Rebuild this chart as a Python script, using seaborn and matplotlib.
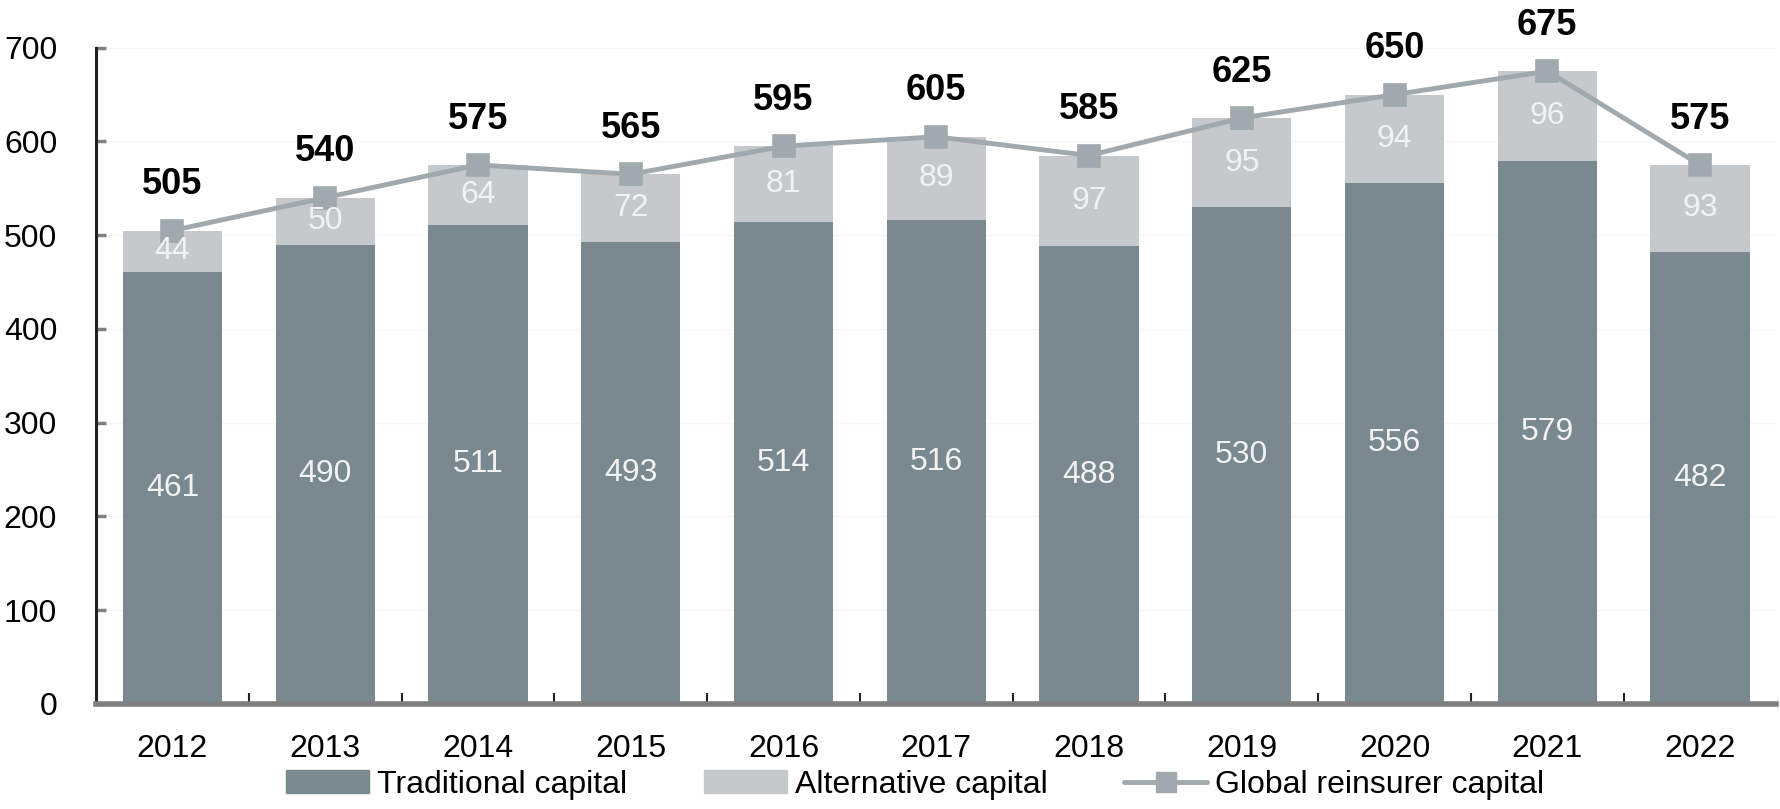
import numpy as np
import pandas as pd
import matplotlib
matplotlib.use("Agg")
import matplotlib.pyplot as plt
import seaborn as sns
from matplotlib.patches import Patch
from matplotlib.lines import Line2D

years = ["2012", "2013", "2014", "2015", "2016", "2017", "2018", "2019", "2020", "2021", "2022"]
traditional = [461, 490, 511, 493, 514, 516, 488, 530, 556, 579, 482]
alternative = [44, 50, 64, 72, 81, 89, 97, 95, 94, 96, 93]
global_total = [505, 540, 575, 565, 595, 605, 585, 625, 650, 675, 575]

c_trad = "#7a898f"
c_alt = "#c5c9cc"
c_line = "#a0a9ad"

sns.set_theme(style="white")
plt.rcParams["font.family"] = ["Liberation Sans", "DejaVu Sans"]

df = pd.DataFrame({
    "Year": years,
    "Traditional": traditional,
    "Alternative": alternative,
    "Total": global_total,
})
df["Stack"] = df["Traditional"] + df["Alternative"]

fig = plt.figure(figsize=(17.8, 8.09), dpi=100)
ax = fig.add_axes([0.054, 0.130, 0.944, 0.811])

# stacked bars: full stack in light grey, traditional part drawn over it
sns.barplot(data=df, x="Year", y="Stack", color=c_alt, saturation=1,
            width=0.65, linewidth=0, ax=ax, zorder=2)
sns.barplot(data=df, x="Year", y="Traditional", color=c_trad, saturation=1,
            width=0.65, linewidth=0, ax=ax, zorder=3)
sns.pointplot(data=df, x="Year", y="Total", color=c_line, markers="s",
              markersize=15, linewidth=3.5, ax=ax, zorder=4)

for i in range(len(years)):
    ax.text(i, traditional[i] / 2, str(traditional[i]), ha="center", va="center",
            color="#f2f2f2", fontsize=23, zorder=5)
    ax.text(i, traditional[i] + alternative[i] / 2, str(alternative[i]), ha="center",
            va="center", color="#f2f2f2", fontsize=23, zorder=5)
    ax.annotate(str(global_total[i]), (i, global_total[i]), xytext=(0, 33),
                textcoords="offset points", ha="center", va="center",
                fontsize=26, fontweight="bold", color="black", zorder=6)

ax.set_xlim(-0.5, len(years) - 0.5)
ax.set_ylim(0, 700)
ax.set_yticks(range(0, 701, 100))
ax.set_xlabel("")
ax.set_ylabel("")
ax.yaxis.grid(True, color="#f6f6f6", linewidth=1)
ax.set_axisbelow(True)

for s in ["top", "right"]:
    ax.spines[s].set_visible(False)
ax.spines["left"].set_color("#222222")
ax.spines["left"].set_linewidth(2.2)
ax.spines["bottom"].set_color("#7f7f7f")
ax.spines["bottom"].set_linewidth(4)
ax.spines["bottom"].set_zorder(6)

ax.tick_params(axis="y", direction="in", length=7, width=2.5, color="#808080",
               labelsize=23, labelcolor="black", pad=28, left=True)
ax.tick_params(axis="x", which="major", length=0, labelsize=23,
               labelcolor="black", pad=22)
ax.set_xticks(np.arange(0.5, len(years) - 0.5, 1), minor=True)
ax.tick_params(axis="x", which="minor", direction="in", length=8, width=1.5,
               color="#222222", bottom=True)

handles = [
    Patch(color=c_trad, label="Traditional capital"),
    Patch(color=c_alt, label="Alternative capital"),
    Line2D([0], [0], color=c_line, linewidth=3.5, marker="s", markersize=15,
           label="Global reinsurer capital"),
]
fig.legend(handles=handles, loc="center", bbox_to_anchor=(0.514, 0.03), ncol=3,
           frameon=False, fontsize=23, handlelength=2.6, handletextpad=0.25,
           columnspacing=2.4, labelcolor="black")

fig.savefig("out.png", dpi=100)
